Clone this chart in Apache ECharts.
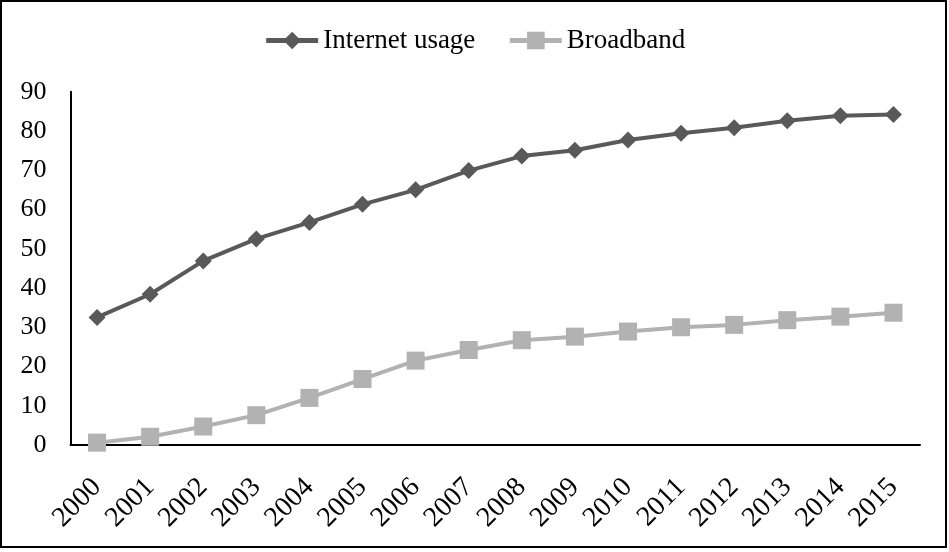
<!DOCTYPE html>
<html>
<head>
<meta charset="utf-8">
<script src="https://cdn.jsdelivr.net/npm/echarts@6/dist/echarts.min.js"></script>
<style>
  html, body { margin: 0; padding: 0; background: #ffffff; }
  #chart { width: 949px; height: 552px; }
</style>
</head>
<body>
<div id="chart"></div>
<script>
// Years on the category axis
const years = ['2000', '2001', '2002', '2003', '2004', '2005', '2006', '2007',
               '2008', '2009', '2010', '2011', '2012', '2013', '2014', '2015'];

// Share of population (%)
const internetUsage = [32.5, 38.4, 46.9, 52.5, 56.7, 61.3, 65.0, 69.9,
                       73.6, 75.1, 77.7, 79.4, 80.8, 82.6, 83.9, 84.2];
const broadband = [0.6, 2.1, 4.7, 7.6, 12.0, 16.8, 21.5, 24.2,
                   26.7, 27.6, 28.9, 30.0, 30.6, 31.8, 32.7, 33.7];

// Value axis ticks
const yMin = 0;
const yMax = 90;
const yStep = 10;

const serif = '"Liberation Serif", "Times New Roman", serif';
const darkGray = '#595959';
const lightGray = '#b2b2b2';

const chart = echarts.init(document.getElementById('chart'), null, { renderer: 'canvas' });

chart.setOption({
  animation: false,
  backgroundColor: '#ffffff',
  textStyle: { fontFamily: serif, color: '#000' },
  graphic: [{
    type: 'rect',
    shape: { x: 1, y: 1, width: 945, height: 546 },
    style: { fill: 'none', stroke: '#000', lineWidth: 2 },
    silent: true
  }],
  legend: {
    top: 22,
    left: 'center',
    itemWidth: 52,
    itemHeight: 22,
    itemGap: 32,
    lineStyle: { width: 5 },
    textStyle: { fontFamily: serif, fontSize: 27, color: '#000' },
    data: ['Internet usage', 'Broadband']
  },
  grid: {
    left: 70.5,
    right: 29,
    top: 91.7,
    bottom: 107,
    containLabel: false
  },
  xAxis: {
    type: 'category',
    data: years,
    boundaryGap: true,
    axisLine: { show: true, lineStyle: { color: '#000', width: 2 } },
    axisTick: { show: false },
    axisLabel: {
      rotate: 45,
      margin: 38,
      fontFamily: serif,
      fontSize: 28,
      color: '#000',
      interval: 0
    },
    splitLine: { show: false }
  },
  yAxis: {
    type: 'value',
    min: yMin,
    max: yMax,
    interval: yStep,
    axisLine: { show: true, lineStyle: { color: '#000', width: 2 } },
    axisTick: { show: false },
    axisLabel: {
      margin: 24,
      fontFamily: serif,
      fontSize: 26,
      color: '#000'
    },
    splitLine: { show: false }
  },
  series: [
    {
      name: 'Internet usage',
      type: 'line',
      data: internetUsage,
      symbol: 'diamond',
      symbolSize: 17,
      color: darkGray,
      lineStyle: { color: darkGray, width: 4 },
      itemStyle: { color: darkGray },
      z: 3
    },
    {
      name: 'Broadband',
      type: 'line',
      data: broadband,
      symbol: 'rect',
      symbolSize: 18,
      color: lightGray,
      lineStyle: { color: lightGray, width: 4 },
      itemStyle: { color: lightGray },
      z: 2
    }
  ]
});
</script>
</body>
</html>
